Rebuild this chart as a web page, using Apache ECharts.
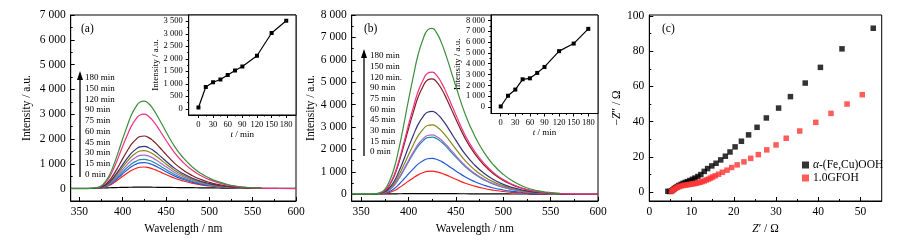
<!DOCTYPE html>
<html>
<head>
<meta charset="utf-8">
<script src="https://cdn.jsdelivr.net/npm/echarts@6/dist/echarts.min.js"></script>
<style>html,body{margin:0;padding:0;background:#fff}#main{width:901px;height:243px}</style>
</head>
<body>
<div id="main"></div>
<script>
// wavelength grid (nm) shared by all spectra
var wavelength = [340,350,360,370,375,380,385,390,395,400,405,410,415,420,425,430,435,440,445,450,460,470,480,490,500,510,520,530,540,550,560,580,600];

// panel (a) spectra
var a0   = [15,15,15,18,22,28,34,40,45,50,53,55,56,57,57,56,55,53,51,49,45,40,36,32,28,24,21,19,17,16,15,14,14];
var a15  = [null,null,null,9,26,70,139,244,365,496,618,731,809,861,870,844,792,722,644,566,418,305,218,152,104,70,44,26,16,9,4,null,null];
var a30  = [null,null,null,11,32,84,168,294,441,599,746,882,977,1040,1050,1019,956,872,777,683,504,368,263,184,126,84,53,32,19,11,5,null,null];
var a45  = [null,null,null,12,35,94,189,330,496,673,838,991,1097,1168,1180,1145,1074,979,873,767,566,413,295,207,142,94,59,35,21,12,6,null,null];
var a60  = [null,null,null,14,41,108,216,378,567,770,959,1134,1256,1337,1350,1310,1229,1121,999,878,648,473,338,236,162,108,68,41,24,14,7,null,null];
var a75  = [null,null,null,15,46,122,245,428,643,872,1086,1285,1423,1515,1530,1484,1392,1270,1132,995,734,536,383,268,184,122,77,46,28,15,8,null,null];
var a90  = [null,null,null,17,51,136,272,476,714,969,1207,1428,1581,1683,1700,1649,1547,1411,1258,1105,816,595,425,298,204,136,85,51,31,17,9,null,null];
var a120 = [null,null,null,21,64,170,339,594,890,1208,1505,1781,1972,2099,2120,2056,1929,1760,1569,1378,1018,742,530,371,254,170,106,64,38,21,11,null,null];
var a150 = [null,null,null,30,90,240,480,840,1260,1710,2130,2520,2790,2970,3000,2910,2730,2490,2220,1950,1440,1050,750,525,360,240,150,90,54,30,15,5,3];
var a180 = [3,3,3,35,106,282,565,988,1483,2012,2506,2965,3283,3495,3530,3424,3212,2930,2612,2295,1694,1236,883,618,424,282,177,106,64,35,18,null,null];

// panel (b) spectra
var b0   = [10,10,10,12,14,17,20,23,26,28,29,30,30,30,30,29,28,27,26,25,23,21,19,17,15,13,12,11,10,10,10,10,10];
var b15  = [null,null,null,10,31,82,165,288,433,587,731,865,958,1020,1030,999,937,855,762,670,494,361,258,180,124,82,52,31,19,10,5,null,null];
var b30  = [null,null,null,16,48,128,256,448,672,912,1136,1344,1488,1584,1600,1552,1456,1328,1184,1040,768,560,400,280,192,128,80,48,29,16,8,null,null];
var b45  = [null,null,null,26,77,204,408,714,1071,1454,1811,2142,2372,2525,2550,2474,2321,2117,1887,1658,1224,893,638,446,306,204,128,77,46,26,13,null,null];
var b60  = [null,null,null,27,80,212,424,742,1113,1511,1882,2226,2465,2624,2650,2571,2412,2200,1961,1723,1272,928,663,464,318,212,133,80,48,27,13,null,null];
var b75  = [null,null,null,31,93,248,496,868,1302,1767,2201,2604,2883,3069,3100,3007,2821,2573,2294,2015,1488,1085,775,543,372,248,155,93,56,31,16,null,null];
var b90  = [null,null,null,37,111,296,592,1036,1554,2109,2627,3108,3441,3663,3700,3589,3367,3071,2738,2405,1776,1295,925,648,444,296,185,111,67,37,19,null,null];
var b120 = [null,null,null,52,155,412,824,1442,2163,2936,3657,4326,4790,5099,5150,4996,4687,4275,3811,3348,2472,1803,1288,901,618,412,258,155,93,52,26,null,null];
var b150 = [null,null,null,55,164,436,872,1526,2289,3107,3870,4578,5069,5396,5450,5287,4960,4524,4033,3543,2616,1908,1363,954,654,436,273,164,98,55,27,8,5];
var b180 = [3,3,3,74,222,592,1184,2072,3108,4218,5254,6216,6882,7326,7400,7178,6734,6142,5476,4810,3552,2590,1850,1295,888,592,370,222,133,74,37,null,null];

// insets: peak intensity vs time
var times = [0,15,30,45,60,75,90,120,150,180];
var insetA = [50,870,1060,1170,1350,1530,1690,2120,3030,3520];
var insetB = [50,1040,1610,2560,2650,3150,3700,5160,5860,7220];

// panel (c) Nyquist data [Z', -Z'']
var feCuX = [4.4,4.9,5.3,5.6,5.9,6.2,6.6,7.0,7.5,8.0,8.5,9.0,9.6,10.2,10.8,11.5,12.2,13.0,13.8,14.8,15.8,16.9,18.0,19.1,20.3,21.8,23.5,25.5,27.7,30.6,33.4,36.9,40.5,45.6,53.0];
var feCuY = [0.5,0.4,0.8,1.4,2.0,2.6,3.2,3.8,4.4,5.0,5.5,6.0,6.6,7.3,8.0,8.9,10.0,11.8,13.4,14.9,16.4,18.3,20.4,22.8,25.7,28.9,32.5,36.8,42.1,47.7,54.2,61.9,70.8,81.3,93.0];
var gfohX = [5.2,5.5,5.8,6.2,6.6,7.0,7.5,8.0,8.5,9.0,9.5,10.0,10.5,11.0,11.5,12.0,12.5,13.0,13.5,14.0,14.5,15.0,15.6,16.4,17.3,18.4,19.5,20.8,22.4,24.0,25.8,27.8,30.0,32.4,35.6,39.4,43.0,46.8,50.4];
var gfohY = [0.5,1.0,1.6,2.2,2.7,3.1,3.5,3.8,4.0,4.2,4.4,4.6,4.8,5.0,5.3,5.6,6.0,6.4,6.9,7.4,8.0,8.6,9.3,10.2,11.3,12.5,14.0,15.5,17.2,19.2,21.3,24.0,26.8,30.6,34.7,39.6,44.7,50.0,55.3];

var timeNames = ['0 min','15 min','30 min','45 min','60 min','75 min','90 min','120 min','150 min','180 min'];
var timeLabelsA = ['180 min','150 min','120 min','90 min','75 min','60 min','45 min','30 min','15 min','0 min'];
var timeLabelsB = ['180 min','150 min','120 min.','90 min','75 min','60 min','45 min','30 min','15 min','0 min'];
var colors = ['#000000','#ff1a1a','#2456d6','#1b8fa6','#b065cc','#86861a','#34347e','#7d1f22','#f0307e','#3b8f3d'];

var wlTicks = [350,400,450,500,550,600], wlMinor = [375,425,475,525,575];
var aTicks = [0,1000,2000,3000,4000,5000,6000,7000], aMinor = [500,1500,2500,3500,4500,5500,6500];
var bTicks = [0,1000,2000,3000,4000,5000,6000,7000,8000], bMinor = [500,1500,2500,3500,4500,5500,6500,7500];
var tTicks = [0,30,60,90,120,150,180], tMinor = [15,45,75,105,135,165];
var iaTicks = [0,500,1000,1500,2000,2500,3000,3500], iaMinor = [250,750,1250,1750,2250,2750,3250];
var ibTicks = [0,1000,2000,3000,4000,5000,6000,7000,8000], ibMinor = [500,1500,2500,3500,4500,5500,6500,7500];
var zxTicks = [0,10,20,30,40,50], zxMinor = [5,15,25,35,45];
var zyTicks = [0,20,40,60,80,100], zyMinor = [10,30,50,70,90];

var FONT = 'Liberation Serif';

function thousands(v) {
  if (v >= 1000) return Math.floor(v / 1000) + ' ' + ('00' + (v % 1000)).slice(-3);
  return String(v);
}

function axes(dim, gi, min, max, major, minor, o) {
  var rich = {i: {fontStyle: 'italic', fontFamily: FONT, fontSize: o.nameSize, color: '#000'}};
  var main = {
    type: 'value', gridIndex: gi, min: min, max: max,
    position: dim === 'x' ? 'bottom' : 'left',
    axisLine: {show: true, onZero: false, lineStyle: {color: '#000', width: 1}},
    axisTick: {show: true, inside: o.inside, length: o.tick, customValues: major, lineStyle: {color: '#000'}},
    axisLabel: {show: true, customValues: major, formatter: o.fmt || thousands, margin: o.margin,
      fontSize: o.size, fontFamily: FONT, color: '#000'},
    splitLine: {show: false},
    name: o.name, nameLocation: 'middle', nameGap: o.gap,
    nameTextStyle: {fontSize: o.nameSize, fontFamily: FONT, color: '#000', rich: rich}
  };
  var sub = {
    type: 'value', gridIndex: gi, min: min, max: max,
    position: dim === 'x' ? 'bottom' : 'left',
    axisLine: {show: false, onZero: false},
    axisTick: {show: true, inside: o.inside, length: o.tick / 2, customValues: minor, lineStyle: {color: '#000'}},
    axisLabel: {show: false}, splitLine: {show: false}
  };
  return [main, sub];
}

function pairs(xs, ys) {
  var out = [];
  for (var i = 0; i < xs.length; i++) if (ys[i] != null) out.push([xs[i], ys[i]]);
  return out;
}

var mainX = {inside: true, tick: 4, margin: 5, size: 11.5, nameSize: 11.5, gap: 17};
var xAxes = [], yAxes = [];
function push(list, arr) { list.push(arr[0], arr[1]); }

// grid 0: (a) main
push(xAxes, axes('x', 0, 340, 600, wlTicks, wlMinor, Object.assign({}, mainX, {name: 'Wavelength / nm'})));
push(yAxes, axes('y', 0, -500, 7000, aTicks, aMinor, {inside: true, tick: 4, margin: 5, size: 11.5, nameSize: 11.5, gap: 38, name: 'Intensity / a.u.'}));
// grid 1: (a) inset
push(xAxes, axes('x', 1, -20, 200, tTicks, tMinor, {inside: false, tick: 3, margin: 5, size: 8.5, nameSize: 9, gap: 14, name: '{i|t} / min', fmt: String}));
push(yAxes, axes('y', 1, -250, 3750, iaTicks, iaMinor, {inside: false, tick: 3, margin: 6, size: 8.5, nameSize: 9, gap: 25, name: 'Intensity / a.u.'}));
// grid 2: (b) main
push(xAxes, axes('x', 2, 340, 600, wlTicks, wlMinor, Object.assign({}, mainX, {name: 'Wavelength / nm'})));
push(yAxes, axes('y', 2, -300, 8000, bTicks, bMinor, {inside: true, tick: 4, margin: 5, size: 11.5, nameSize: 11.5, gap: 35, name: 'Intensity / a.u.'}));
// grid 3: (b) inset
push(xAxes, axes('x', 3, -20, 200, tTicks, tMinor, {inside: false, tick: 3, margin: 5, size: 8.5, nameSize: 9, gap: 14, name: '{i|t} / min', fmt: String}));
push(yAxes, axes('y', 3, -600, 8500, ibTicks, ibMinor, {inside: false, tick: 3, margin: 6, size: 8.5, nameSize: 9, gap: 25, name: 'Intensity / a.u.'}));
// grid 4: (c)
push(xAxes, axes('x', 4, 0, 55, zxTicks, zxMinor, Object.assign({}, mainX, {name: '{i|Z}\u2032 / \u03a9', fmt: String})));
push(yAxes, axes('y', 4, -5, 100.5, zyTicks, zyMinor, {inside: true, tick: 4, margin: 5, size: 11.5, nameSize: 11.5, gap: 24, name: '\u2212{i|Z}\u2033 / \u03a9', fmt: String}));

var series = [];
function spectra(gi, list) {
  list.forEach(function (ys, k) {
    series.push({
      type: 'line', name: timeNames[k], xAxisIndex: gi * 2, yAxisIndex: gi * 2,
      data: pairs(wavelength, ys), showSymbol: false, smooth: true,
      lineStyle: {width: 1.2, color: colors[k]}, itemStyle: {color: colors[k]}
    });
  });
}
spectra(0, [a0, a15, a30, a45, a60, a75, a90, a120, a150, a180]);
spectra(2, [b0, b15, b30, b45, b60, b75, b90, b120, b150, b180]);
[[1, insetA], [3, insetB]].forEach(function (p) {
  series.push({
    type: 'line', xAxisIndex: p[0] * 2, yAxisIndex: p[0] * 2, data: pairs(times, p[1]),
    symbol: 'rect', symbolSize: 4, showSymbol: true,
    lineStyle: {width: 1.2, color: '#000'}, itemStyle: {color: '#000'}
  });
});
series.push({
  type: 'scatter', name: '\u03b1-(Fe,Cu)OOH', xAxisIndex: 8, yAxisIndex: 8,
  data: pairs(feCuX, feCuY), symbol: 'rect', symbolSize: 5.5, itemStyle: {color: '#000'}
});
series.push({
  type: 'scatter', name: '1.0GFOH', xAxisIndex: 8, yAxisIndex: 8,
  data: pairs(gfohX, gfohY), symbol: 'rect', symbolSize: 5.5, itemStyle: {color: '#ff3333'}
});

var graphics = [];
function txt(s, x, y, size) {
  graphics.push({type: 'text', x: x, y: y, style: {text: s, font: size + 'px "' + FONT + '"', fill: '#000', textVerticalAlign: 'middle', verticalAlign: 'middle'}});
}
function arrow(x, top, bottom) {
  graphics.push({type: 'line', shape: {x1: x, y1: bottom, x2: x, y2: top + 6}, style: {stroke: '#000', lineWidth: 1.3}});
  graphics.push({type: 'polygon', shape: {points: [[x, top], [x - 3, top + 9], [x + 3, top + 9]]}, style: {fill: '#000'}});
}
txt('(a)', 81, 29, 11.5);
txt('(b)', 364, 29, 11.5);
txt('(c)', 662, 29, 11.5);
arrow(80, 71, 177);
arrow(364, 49, 156);
timeLabelsA.forEach(function (s, i) { txt(s, 85, 78 + i * 10.7, 9); });
timeLabelsB.forEach(function (s, i) { txt(s, 370, 56 + i * 10.67, 9); });

var option = {
  animation: false,
  backgroundColor: '#fff',
  textStyle: {fontFamily: FONT},
  grid: [
    {left: 70.7, top: 15, width: 225.3, height: 186, show: true, borderColor: '#000', borderWidth: 1},
    {left: 188.7, top: 15, width: 107.3, height: 100, show: true, borderColor: '#000', borderWidth: 1, backgroundColor: '#fff'},
    {left: 351.7, top: 15, width: 246.3, height: 186, show: true, borderColor: '#000', borderWidth: 1},
    {left: 491, top: 15, width: 107, height: 98.5, show: true, borderColor: '#000', borderWidth: 1, backgroundColor: '#fff'},
    {left: 649.3, top: 15, width: 232.4, height: 186, show: true, borderColor: '#000', borderWidth: 1}
  ],
  xAxis: xAxes,
  yAxis: yAxes,
  legend: {
    data: ['\u03b1-(Fe,Cu)OOH', '1.0GFOH'], orient: 'vertical', left: 797, top: 154,
    icon: 'rect', itemWidth: 7, itemHeight: 7, itemGap: 1,
    formatter: function (n) { return n.charAt(0) === '\u03b1' ? '{i|\u03b1}' + n.slice(1) : n; },
    textStyle: {fontSize: 11.5, fontFamily: FONT, color: '#000', padding: [0, 0, 0, -1],
      rich: {i: {fontStyle: 'italic', fontSize: 11.5, fontFamily: FONT, color: '#000'}}}
  },
  graphic: graphics,
  series: series
};

var myChart = echarts.init(document.getElementById('main'));
myChart.setOption(option);
</script>
</body>
</html>
